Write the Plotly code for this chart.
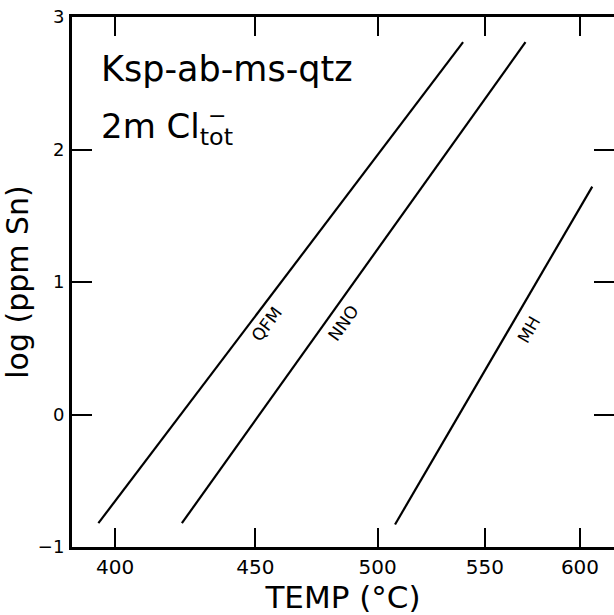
import plotly.graph_objects as go

# ---- data (temperature in °C, log ppm Sn) ----
temp_qfm = [394.5, 539.3]
log_qfm = [-0.82, 2.81]
temp_nno = [422.9, 570.6]
log_nno = [-0.82, 2.81]
temp_mh = [507.7, 606.9]
log_mh = [-0.83, 1.72]

x_tick_temps = [400, 450, 500, 550, 600]
x_tick_labels = ["400", "450", "500", "550", "600"]
y_tick_vals = [-1, 0, 1, 2, 3]
y_tick_labels = ["−1", "0", "1", "2", "3"]

x_range_temps = [386.0, 619.4]
y_range = [-1, 3]

# label anchors (temperature, log) and text angles
line_names = ["QFM", "NNO", "MH"]
label_temps = [454.4, 485.3, 572.1]
label_logs = [0.68, 0.69, 0.64]
label_angles = [-53, -55, -60]


def inv_t(temps):
    # the temperature axis is linear in 1000/T (K)
    return [1000.0 / (t + 273.15) for t in temps]


FONT = "DejaVu Sans"

fig = go.Figure()
series = [(temp_qfm, log_qfm, "y"), (temp_nno, log_nno, "y"), (temp_mh, log_mh, "y2")]
for (tx, ly, ya), name in zip(series, line_names):
    fig.add_trace(go.Scatter(x=inv_t(tx), y=ly, mode="lines", name=name, yaxis=ya,
                             line=dict(color="black", width=2.2), showlegend=False,
                             hoverinfo="skip"))

for name, t, l, a in zip(line_names, label_temps, label_logs, label_angles):
    fig.add_annotation(x=inv_t([t])[0], y=l, text=name, showarrow=False, textangle=a,
                       font=dict(family=FONT, size=17, color="black"),
                       xanchor="center", yanchor="middle")

fig.add_annotation(xref="paper", yref="paper", x=0.05, y=0.901, text="Ksp-ab-ms-qtz",
                   showarrow=False, xanchor="left", yanchor="middle",
                   font=dict(family=FONT, size=35, color="black"))
fig.add_annotation(xref="paper", yref="paper", x=0.05, y=0.79, text="2m Cl<sub>tot</sub>",
                   showarrow=False, xanchor="left", yanchor="middle",
                   font=dict(family=FONT, size=34, color="black"))
fig.add_annotation(xref="paper", yref="paper", x=0.268, y=0.815, text="−",
                   showarrow=False, xanchor="center", yanchor="middle",
                   font=dict(family=FONT, size=22, color="black"))

fig.update_layout(
    width=614, height=615,
    margin=dict(l=72, r=0, t=17, b=63),
    paper_bgcolor="white", plot_bgcolor="white",
    font=dict(family=FONT, color="black"),
    xaxis=dict(
        range=inv_t(x_range_temps),
        tickvals=inv_t(x_tick_temps), ticktext=x_tick_labels,
        ticks="inside", ticklen=19, tickwidth=2, tickcolor="black",
        showline=True, linewidth=3, linecolor="black", mirror="ticks",
        showgrid=False, zeroline=False,
        tickfont=dict(family=FONT, size=20, color="black"),
        title=dict(text="TEMP (°C)", font=dict(family=FONT, size=31, color="black"), standoff=14),
    ),
    yaxis=dict(
        range=y_range, tickvals=y_tick_vals, ticktext=y_tick_labels,
        ticks="inside", ticklen=20, tickwidth=2, tickcolor="black",
        showline=True, linewidth=3, linecolor="black", mirror=False,
        showgrid=False, zeroline=False, ticklabelstandoff=1,
        tickfont=dict(family=FONT, size=18, color="black"),
        title=dict(text="log (ppm Sn)", font=dict(family=FONT, size=30, color="black"), standoff=4),
    ),
    yaxis2=dict(
        overlaying="y", side="right", matches="y", range=y_range,
        tickvals=y_tick_vals, showticklabels=False,
        ticks="inside", ticklen=20, tickwidth=2, tickcolor="black",
        showline=False, showgrid=False, zeroline=False,
    ),
)

fig.write_html("out.html", config={"displayModeBar": False},
               post_script="document.body.style.margin='0';")
